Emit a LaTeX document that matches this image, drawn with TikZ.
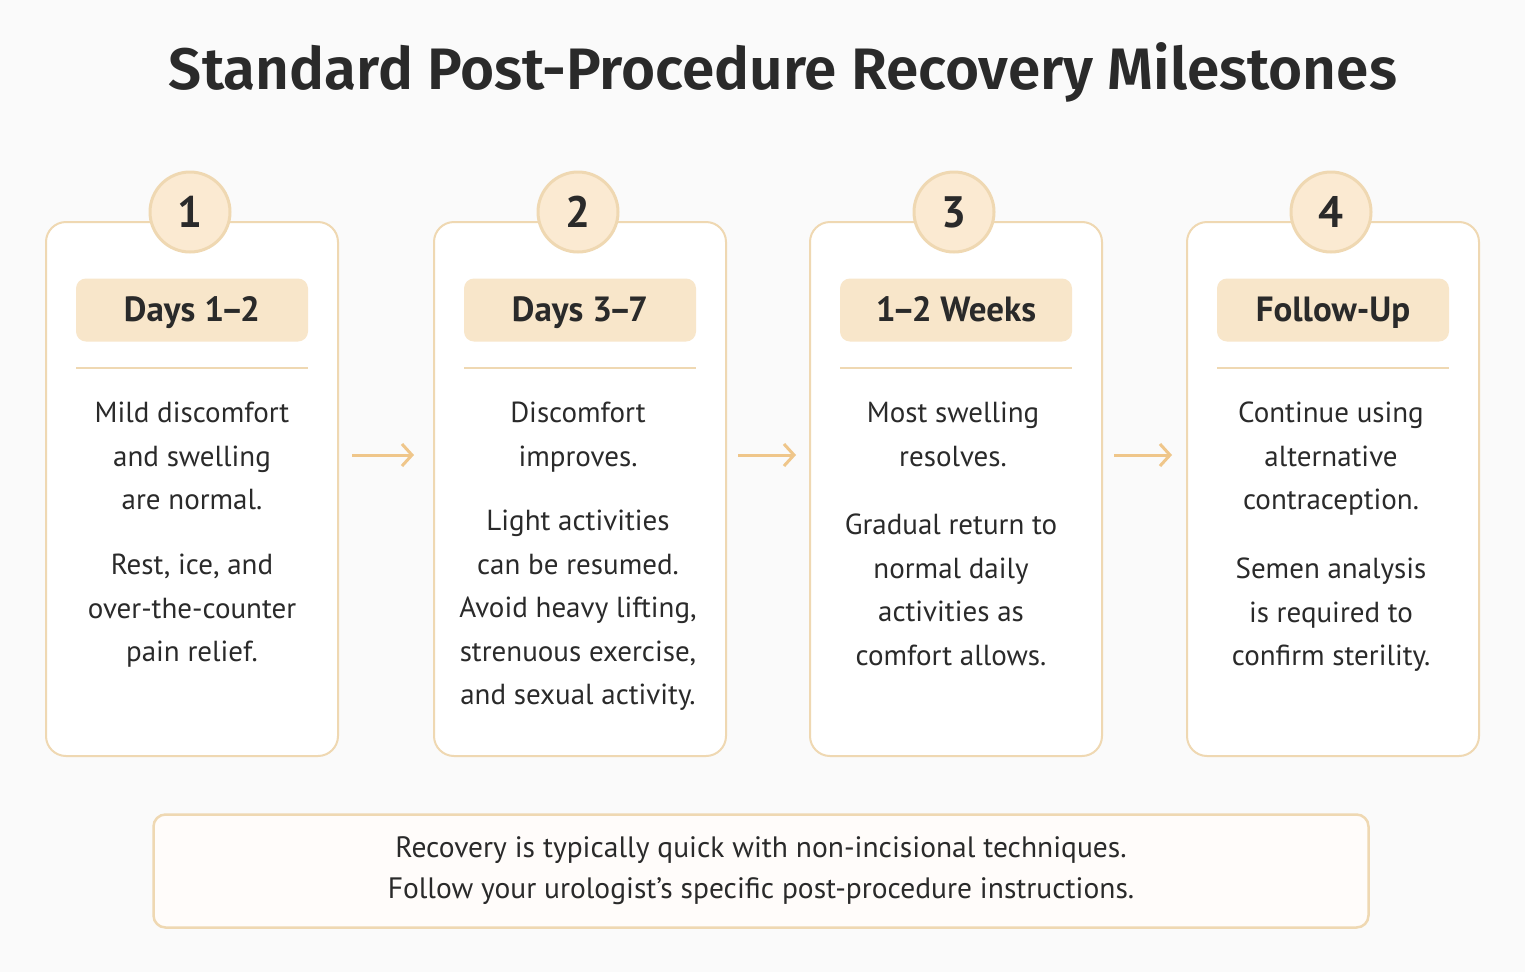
\documentclass[tikz,border=0pt]{standalone}
\usepackage{fontspec}
\setmainfont{PT Sans}
\newfontfamily\titlefont{Fira Sans SemiBold}
\usetikzlibrary{arrows.meta}
\definecolor{cardline}{HTML}{EFD8B2}
\definecolor{badgefill}{HTML}{FBEAD2}
\definecolor{tagfill}{HTML}{F8E6CA}
\definecolor{arrowcol}{HTML}{EFC68A}
\definecolor{textcol}{HTML}{2A2A2A}
\tikzset{
  card/.style={draw=cardline, line width=2pt, rounded corners=20pt, fill=white},
  badge/.style={circle, draw=cardline, line width=3pt, fill=badgefill, minimum size=80pt, inner sep=0pt, font=\fontsize{44}{44}\selectfont\bfseries, text=textcol},
  tag/.style={rounded corners=10pt, fill=tagfill, minimum width=232pt, minimum height=63pt, inner sep=0pt, text height=24pt, text depth=2pt, font=\fontsize{35}{35}\selectfont\bfseries, text=textcol},
  para/.style={anchor=north, align=center, inner sep=0pt, text=textcol, font=\fontsize{29}{43.5}\selectfont},
  nextstep/.style={draw=arrowcol, line width=3pt, -{Straight Barb[length=10pt, width=22pt, line width=3pt]}}
}
\begin{document}
\begin{tikzpicture}[x=1pt, y=-1pt]
\fill[white!98!black] (0,0) rectangle (1525,972);
\useasboundingbox (0,0) rectangle (1525,972);
\node (title) [text=textcol, font=\fontsize{58.5}{58.5}\titlefont] at (783,72) {Standard Post-Procedure Recovery Milestones};
% cards
\foreach \n/\x/\num/\lab in {a/192/1/Days 1\kern-.1em--\kern-.1em2, b/580/2/Days 3\kern-.1em--\kern-.1em7, c/956/3/1\kern-.1em--\kern-.1em2 Weeks, d/1333/4/Follow-Up}{
  \node (card\n) [card, minimum width=292pt, minimum height=534pt] at (\x,489) {};
  \node (badge\n) [badge] at (\x-2,212) {\num};
  \node (tag\n) [tag] at (\x,310) {\lab};
  \draw[cardline, line width=2pt] (\x-116,368) -- (\x+116,368);
}
\node (a1) [para] at (192,402) {Mild discomfort\\and swelling\\are normal.};
\node (a2) [para] at (192,554) {Rest, ice, and\\over-the-counter\\pain relief.};
\node (b1) [para] at (578,402) {Discomfort\\improves.};
\node (b2) [para] at (578,510) {Light activities\\can be resumed.\\Avoid heavy lifting,\\strenuous exercise,\\and sexual activity.};
\node (c1) [para] at (953,402) {Most swelling\\resolves.};
\node (c2) [para] at (951,514) {Gradual return to\\normal daily\\activities as\\comfort allows.};
\node (d1) [para] at (1331,402) {Continue using\\alternative\\contraception.};
\node (d2) [para] at (1331,558) {Semen analysis\\is required to\\confirm sterility.};
% arrows
\draw[nextstep] (352,455) -- (414,455);
\draw[nextstep] (738,455) -- (796,455);
\draw[nextstep] (1114,455) -- (1172,455);
% note
\node (note) [draw=cardline, line width=2.5pt, rounded corners=12pt, fill=white!98!orange, minimum width=1215pt, minimum height=113pt, align=center, text=textcol, font=\fontsize{29.5}{41}\selectfont] at (761,871) {Recovery is typically quick with non-incisional techniques.\\Follow your urologist’s specific post-procedure instructions.};
\end{tikzpicture}
\end{document}
